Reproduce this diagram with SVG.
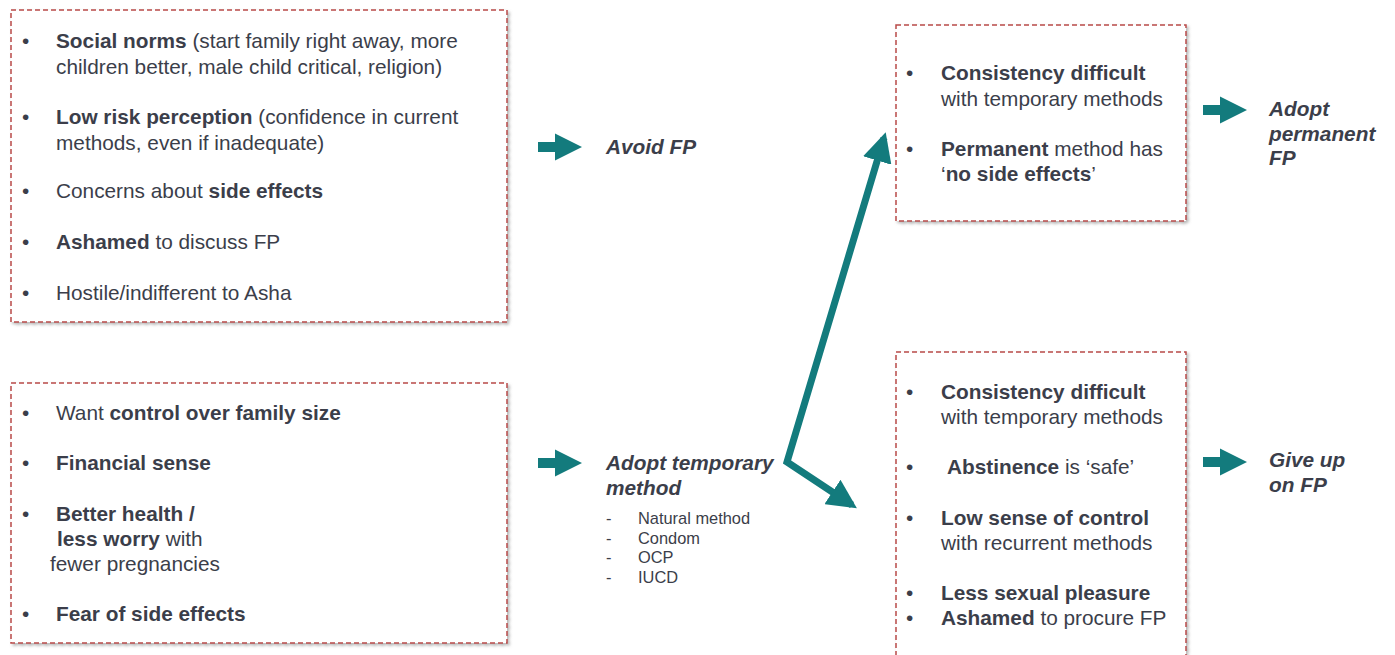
<svg xmlns="http://www.w3.org/2000/svg" width="1395" height="655" viewBox="0 0 1395 655">
<defs>
<filter id="sh" x="-5%" y="-5%" width="110%" height="110%">
<feDropShadow dx="2" dy="2" stdDeviation="1.5" flood-color="#888" flood-opacity="0.6"/>
</filter>
<marker id="ah" viewBox="0 0 10 10" refX="8" refY="5" markerWidth="4.2" markerHeight="4.2" orient="auto-start-reverse" markerUnits="strokeWidth">
<path d="M0,0 L10,5 L0,10 z" fill="#137b7d"/>
</marker>
<path id="blk" d="M0,-5 L17,-5 L17,-13.5 L44,0 L17,13.5 L17,5 L0,5 z"/>
</defs>
<style>
.box{fill:#fff;stroke:#b94a48;stroke-width:1.5;stroke-dasharray:5 3;filter:url(#sh)}
text{font-family:"Liberation Sans",Arial,sans-serif;fill:#3b3e4a;font-size:20.8px}
.b{font-weight:bold}
.o{font-weight:bold;font-style:italic}
.s{font-size:16.4px}
.arr{fill:#137b7d}
</style>
<rect width="1395" height="655" fill="#fff"/>

<g id="node-barriers">
<rect class="box" x="11" y="10" width="496" height="312"/>
<text x="22" y="48">•</text><text x="56" y="48"><tspan class="b">Social norms</tspan> (start family right away, more</text>
<text x="56" y="74">children better, male child critical, religion)</text>
<text x="22" y="124">•</text><text x="56" y="124"><tspan class="b">Low risk perception</tspan> (confidence in current</text>
<text x="56" y="150">methods, even if inadequate)</text>
<text x="22" y="198">•</text><text x="56" y="198">Concerns about <tspan class="b">side effects</tspan></text>
<text x="22" y="249">•</text><text x="56" y="249"><tspan class="b">Ashamed</tspan> to discuss FP</text>
<text x="22" y="300">•</text><text x="56" y="300">Hostile/indifferent to Asha</text>
</g>

<g id="node-motivators">
<rect class="box" x="11" y="383" width="496" height="260"/>
<text x="22" y="420">•</text><text x="56" y="420">Want <tspan class="b">control over family size</tspan></text>
<text x="22" y="470">•</text><text x="56" y="470" class="b">Financial sense</text>
<text x="22" y="521">•</text><text x="56" y="521" class="b">Better health /</text>
<text x="57" y="546"><tspan class="b">less worry</tspan> with</text>
<text x="50" y="571">fewer pregnancies</text>
<text x="22" y="621">•</text><text x="56" y="621" class="b">Fear of side effects</text>
</g>

<g id="node-avoid">
<text x="606" y="154" class="o">Avoid FP</text>
</g>

<g id="node-temporary">
<text x="606" y="470" class="o">Adopt temporary</text>
<text x="606" y="495" class="o">method</text>
<text x="606" y="524" class="s">-</text><text x="638" y="524" class="s">Natural method</text>
<text x="606" y="544" class="s">-</text><text x="638" y="544" class="s">Condom</text>
<text x="606" y="563" class="s">-</text><text x="638" y="563" class="s">OCP</text>
<text x="606" y="583" class="s">-</text><text x="638" y="583" class="s">IUCD</text>
</g>

<g id="node-permanent-reasons">
<rect class="box" x="896" y="25" width="290" height="196"/>
<text x="906" y="80">•</text><text x="941" y="80" class="b">Consistency difficult</text>
<text x="941" y="106">with temporary methods</text>
<text x="906" y="156">•</text><text x="941" y="156"><tspan class="b">Permanent</tspan> method has</text>
<text x="941" y="181">‘<tspan class="b">no side effects</tspan>’</text>
</g>

<g id="node-giveup-reasons">
<rect class="box" x="896" y="352" width="290" height="310"/>
<text x="906" y="399">•</text><text x="941" y="399" class="b">Consistency difficult</text>
<text x="941" y="424">with temporary methods</text>
<text x="906" y="474">•</text><text x="947" y="474"><tspan class="b">Abstinence</tspan> is ‘safe’</text>
<text x="906" y="525">•</text><text x="941" y="525" class="b">Low sense of control</text>
<text x="941" y="550">with recurrent methods</text>
<text x="906" y="600">•</text><text x="941" y="600" class="b">Less sexual pleasure</text>
<text x="906" y="625">•</text><text x="941" y="625"><tspan class="b">Ashamed</tspan> to procure FP</text>
</g>

<g id="node-adopt-permanent">
<text x="1269" y="116" class="o">Adopt</text>
<text x="1269" y="141" class="o">permanent</text>
<text x="1269" y="165" class="o">FP</text>
</g>

<g id="node-giveup">
<text x="1269" y="467" class="o">Give up</text>
<text x="1269" y="492" class="o">on FP</text>
</g>

<g id="connectors">
<use href="#blk" class="arr" x="538" y="147"/>
<use href="#blk" class="arr" x="538" y="463"/>
<use href="#blk" class="arr" x="1203" y="110"/>
<use href="#blk" class="arr" x="1203" y="462"/>
<path d="M884,138 L787,462 L852,505" fill="none" stroke="#137b7d" stroke-width="7" stroke-linejoin="miter" stroke-miterlimit="10" marker-start="url(#ah)" marker-end="url(#ah)"/>
</g>
</svg>
